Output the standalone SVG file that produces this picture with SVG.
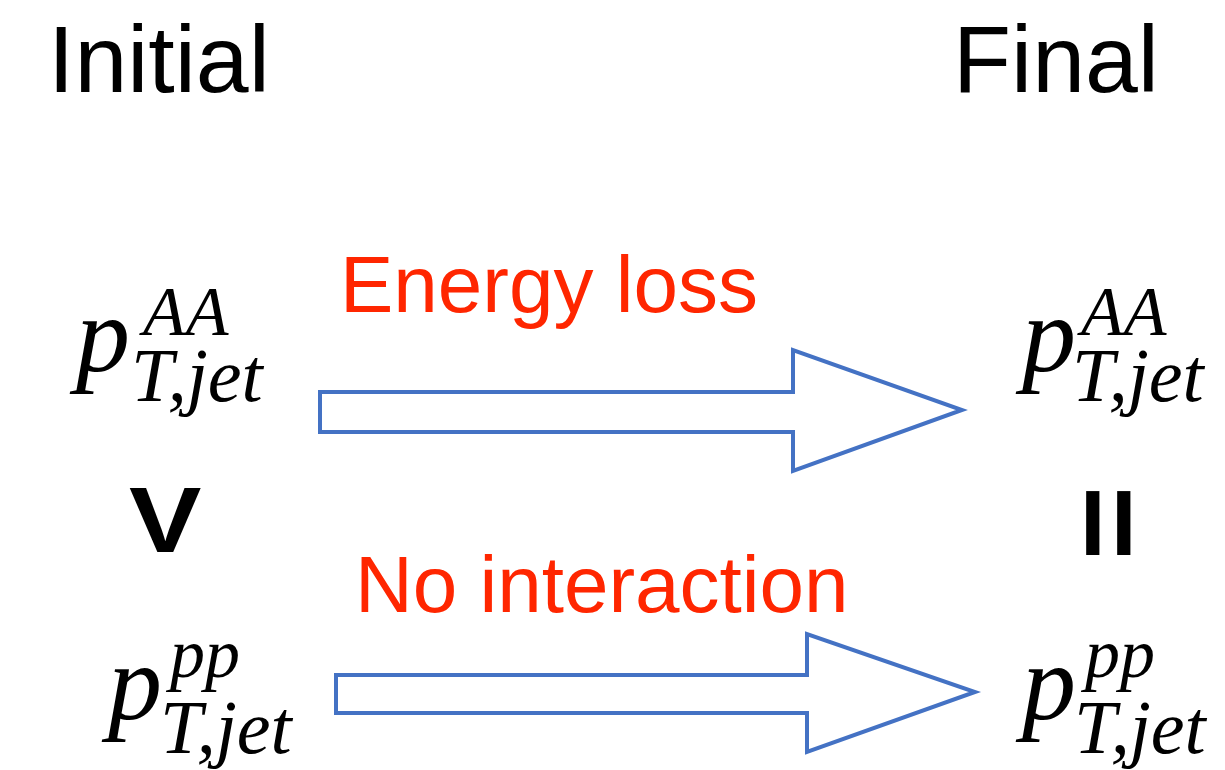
<svg xmlns="http://www.w3.org/2000/svg" width="1225" height="770" viewBox="0 0 1225 770">
  <style>
    .head { font-family: "Liberation Sans", Arial, sans-serif; font-size: 95px; fill: #000; }
    .label { font-family: "Liberation Sans", Arial, sans-serif; font-size: 80px; fill: #FF2600; }
    .rel { font-family: "Liberation Sans", Arial, sans-serif; font-size: 92px; font-weight: bold; fill: #000; }
    .math { font-family: "Liberation Serif", "Times New Roman", serif; font-style: italic; fill: #000; }
    .big { font-size: 108px; }
    .sup { font-size: 70px; }
    .sub { font-size: 76px; }
    .block { fill: #fff; stroke: #4472C4; stroke-width: 4; stroke-linejoin: miter; }
  </style>
  <rect width="1225" height="770" fill="#fff"/>

  <g id="headings">
    <text class="head" x="48" y="92">Initial</text>
    <text class="head" x="953" y="92">Final</text>
  </g>

  <!-- initial / final momenta -->
  <g id="initial-aa">
    <text class="math big" x="76" y="371">p</text>
    <text class="math sup" x="143" y="335">AA</text>
    <text class="math sub" x="131" y="401">T,jet</text>
  </g>
  <g id="final-aa">
    <text class="math big" x="1022" y="371">p</text>
    <text class="math sup" x="1081" y="335">AA</text>
    <text class="math sub" x="1072" y="401">T,jet</text>
  </g>
  <g id="initial-pp">
    <text class="math big" x="108" y="719">p</text>
    <text class="math sup" x="170" y="677">pp</text>
    <text class="math sub" x="160" y="753">T,jet</text>
  </g>
  <g id="final-pp">
    <text class="math big" x="1022" y="719">p</text>
    <text class="math sup" x="1085" y="677">pp</text>
    <text class="math sub" x="1074" y="753">T,jet</text>
  </g>

  <!-- relations between the two rows -->
  <g id="relation-initial">
    <text class="rel" transform="translate(129,552) scale(1.18,1)" x="0" y="0">V</text>
  </g>
  <g id="relation-final">
    <text class="rel" x="1080" y="555" letter-spacing="5.5">II</text>
  </g>

  <g id="labels">
    <text class="label" x="340" y="312">Energy loss</text>
    <text class="label" x="355" y="612">No interaction</text>
  </g>

  <!-- block arrows -->
  <g id="connectors">
    <polygon class="block" points="320,392 793,392 793,350 962,410 793,471 793,432 320,432"/>
    <polygon class="block" points="336,675 807,675 807,634 975,692 807,752 807,713 336,713"/>
  </g>
</svg>
